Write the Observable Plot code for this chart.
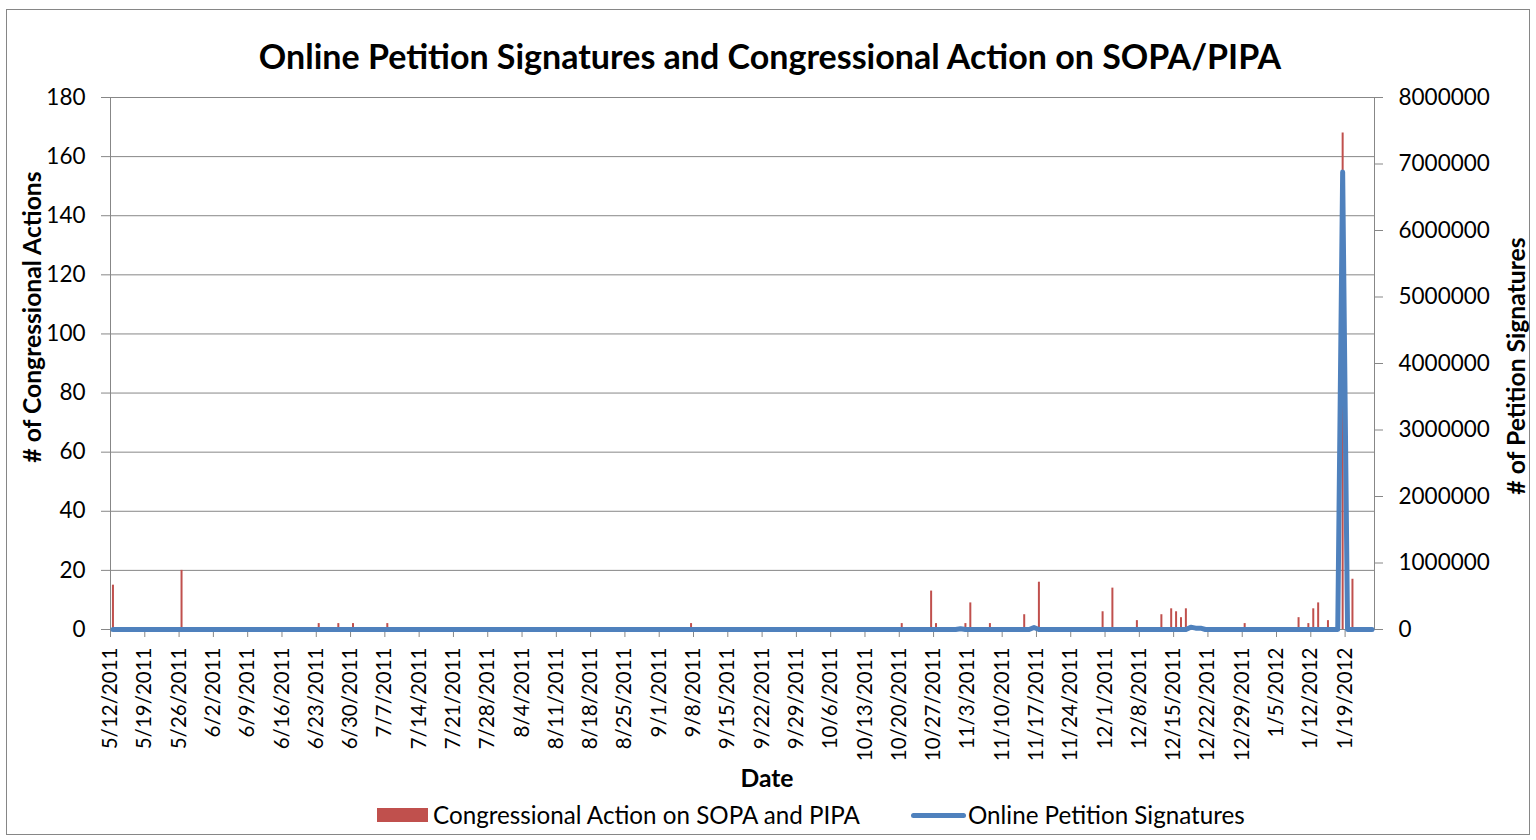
<!DOCTYPE html>
<html>
<head>
<meta charset="utf-8">
<script src="https://cdn.jsdelivr.net/npm/d3@7"></script>
<script src="https://cdn.jsdelivr.net/npm/@observablehq/plot@0.6"></script>
<style>
  html, body { margin: 0; padding: 0; background: #fff; }
  #chart { position: relative; width: 1536px; height: 840px; font-family: Lato, "Open Sans", sans-serif; color: #000; overflow: hidden; }
  #frame { position: absolute; left: 6px; top: 9px; width: 1524px; height: 826px; border: 1px solid #868686; box-sizing: border-box; }
  #title { position: absolute; left: 0; width: 1540px; top: 35px; text-align: center; font-weight: 700; font-size: 34px; line-height: 42px; white-space: nowrap; }
  #plot { position: absolute; left: 0; top: 0; }
  .lg { position: absolute; font-size: 24.2px; line-height: 28px; white-space: nowrap; }
  #ytitleL, #ytitleR, #xtitle { position: absolute; font-weight: 700; font-size: 24.7px; white-space: nowrap; }
</style>
</head>
<body>
<div id="chart">
  <div id="frame"></div>
  <div id="plot"></div>
  <div id="title"></div>
  <div id="legend"></div>
</div>
<script>
// ---------------- data ----------------
const chartTitle = "Online Petition Signatures and Congressional Action on SOPA/PIPA";
const leftAxisTitle = "# of Congressional Actions";
const rightAxisTitle = "# of Petition Signatures";
const xAxisTitle = "Date";
const seriesNames = ["Congressional Action on SOPA and PIPA", "Online Petition Signatures"];
const seriesColors = ["#C0504D", "#4F81BD"];

const xDomain = ["5/12/2011", "1/25/2012"];
const xTickLabels = ["5/12/2011","5/19/2011","5/26/2011","6/2/2011","6/9/2011","6/16/2011","6/23/2011","6/30/2011",
  "7/7/2011","7/14/2011","7/21/2011","7/28/2011","8/4/2011","8/11/2011","8/18/2011","8/25/2011","9/1/2011",
  "9/8/2011","9/15/2011","9/22/2011","9/29/2011","10/6/2011","10/13/2011","10/20/2011","10/27/2011","11/3/2011",
  "11/10/2011","11/17/2011","11/24/2011","12/1/2011","12/8/2011","12/15/2011","12/22/2011","12/29/2011",
  "1/5/2012","1/12/2012","1/19/2012"];
const leftTicks = [0, 20, 40, 60, 80, 100, 120, 140, 160, 180];
const rightTicks = [0, 1000000, 2000000, 3000000, 4000000, 5000000, 6000000, 7000000, 8000000];

// Congressional actions (per day)
const actionDates = ["5/12/2011","5/26/2011","6/23/2011","6/27/2011","6/30/2011","7/7/2011","9/7/2011",
  "10/20/2011","10/26/2011","10/27/2011","11/2/2011","11/3/2011","11/7/2011","11/14/2011","11/17/2011",
  "11/30/2011","12/2/2011","12/7/2011","12/12/2011","12/14/2011","12/15/2011","12/16/2011","12/17/2011",
  "12/29/2011","1/9/2012","1/11/2012","1/12/2012","1/13/2012","1/15/2012","1/18/2012","1/20/2012"];
const actionCounts = [15, 20, 2, 2, 2, 2, 2,
  2, 13, 2, 2, 9, 2, 5, 16,
  6, 14, 3, 5, 7, 6, 4, 7,
  2, 4, 2, 7, 9, 3, 168, 17];

// Online petition signatures (per day; zero where not listed)
const sigDates = ["5/12/2011","10/31/2011","11/1/2011","11/2/2011","11/15/2011","11/16/2011","11/17/2011",
  "12/17/2011","12/18/2011","12/19/2011","12/20/2011","12/21/2011","1/17/2012","1/18/2012","1/19/2012","1/24/2012"];
const sigValues = [0, 0, 12000, 0, 0, 30000, 0,
  0, 35000, 20000, 20000, 0, 0, 6880000, 0, 0];

// ---------------- helpers ----------------
const parse = s => { const [m, d, y] = s.split("/").map(Number); return new Date(Date.UTC(y, m - 1, d)); };
const midDay = s => new Date(parse(s).getTime() + 12 * 3600 * 1000);
const fmt = d3.utcFormat("%-m/%-d/%Y");
const yMax = 180, sigMax = 8000000;
const toLeft = v => v * yMax / sigMax;

const actions = actionDates.map((d, i) => ({date: midDay(d), n: actionCounts[i]}));
const sigs = sigDates.map((d, i) => ({date: midDay(d), v: sigValues[i]}));

const W = 1536, H = 840;
const plot = Plot.plot({
  width: W, height: H,
  marginLeft: 110, marginRight: W - 1374, marginTop: 97, marginBottom: H - 629,
  style: {fontFamily: "Lato, 'Open Sans', sans-serif", color: "#000", background: "transparent", overflow: "visible"},
  x: {type: "utc", domain: xDomain.map(parse)},
  y: {domain: [0, yMax]},
  marks: [
    Plot.gridY(leftTicks, {stroke: "#878787", strokeOpacity: 1, strokeWidth: 1}),
    Plot.frame({stroke: "#878787", strokeWidth: 1}),
    Plot.axisY(leftTicks, {anchor: "left", tickSize: 9, tickPadding: 16, stroke: "#878787", fontSize: 22.5, label: null, tickFormat: d => String(d)}),
    Plot.axisY(rightTicks.map(toLeft), {anchor: "right", tickSize: 8, tickPadding: 16, stroke: "#878787", fontSize: 22.5, label: null,
      tickFormat: v => String(Math.round(v * sigMax / yMax))}),
    Plot.axisX(xTickLabels.map(parse), {anchor: "bottom", tickSize: 8, tickPadding: 10, tickRotate: -90, stroke: "#878787", fontSize: 20.5, label: null, tickFormat: fmt}),
    Plot.ruleX(actions, {x: "date", y1: 0, y2: "n", stroke: seriesColors[0], strokeWidth: 2}),
    Plot.line(sigs, {x: "date", y: d => toLeft(d.v), stroke: seriesColors[1], strokeWidth: 5, strokeLinejoin: "round", strokeLinecap: "round"})
  ]
});
document.getElementById("plot").appendChild(plot);

// ---------------- texts ----------------
document.getElementById("title").textContent = chartTitle;

const chart = document.getElementById("chart");
function addText(id, text) {
  const el = document.createElement("div");
  el.id = id; el.textContent = text;
  chart.appendChild(el);
  return el;
}
const yl = addText("ytitleL", leftAxisTitle);
yl.style.left = "31px"; yl.style.top = "317px";
yl.style.transform = "translate(-50%, -50%) rotate(-90deg)";
const yr = addText("ytitleR", rightAxisTitle);
yr.style.left = "1515px"; yr.style.top = "366px";
yr.style.transform = "translate(-50%, -50%) rotate(-90deg)";
const xt = addText("xtitle", xAxisTitle);
xt.style.left = "767px"; xt.style.top = "777px";
xt.style.transform = "translate(-50%, -50%)";

// legend
const legend = document.getElementById("legend");
const sw1 = document.createElement("div");
Object.assign(sw1.style, {position: "absolute", left: "377px", top: "808px", width: "51px", height: "14px", background: seriesColors[0]});
legend.appendChild(sw1);
const t1 = document.createElement("div"); t1.className = "lg"; t1.textContent = seriesNames[0];
Object.assign(t1.style, {left: "433px", top: "801px"});
legend.appendChild(t1);
const sw2 = document.createElement("div");
Object.assign(sw2.style, {position: "absolute", left: "911px", top: "813px", width: "55px", height: "5px", borderRadius: "3px", background: seriesColors[1]});
legend.appendChild(sw2);
const t2 = document.createElement("div"); t2.className = "lg"; t2.textContent = seriesNames[1];
Object.assign(t2.style, {left: "968px", top: "801px"});
legend.appendChild(t2);
</script>
</body>
</html>
